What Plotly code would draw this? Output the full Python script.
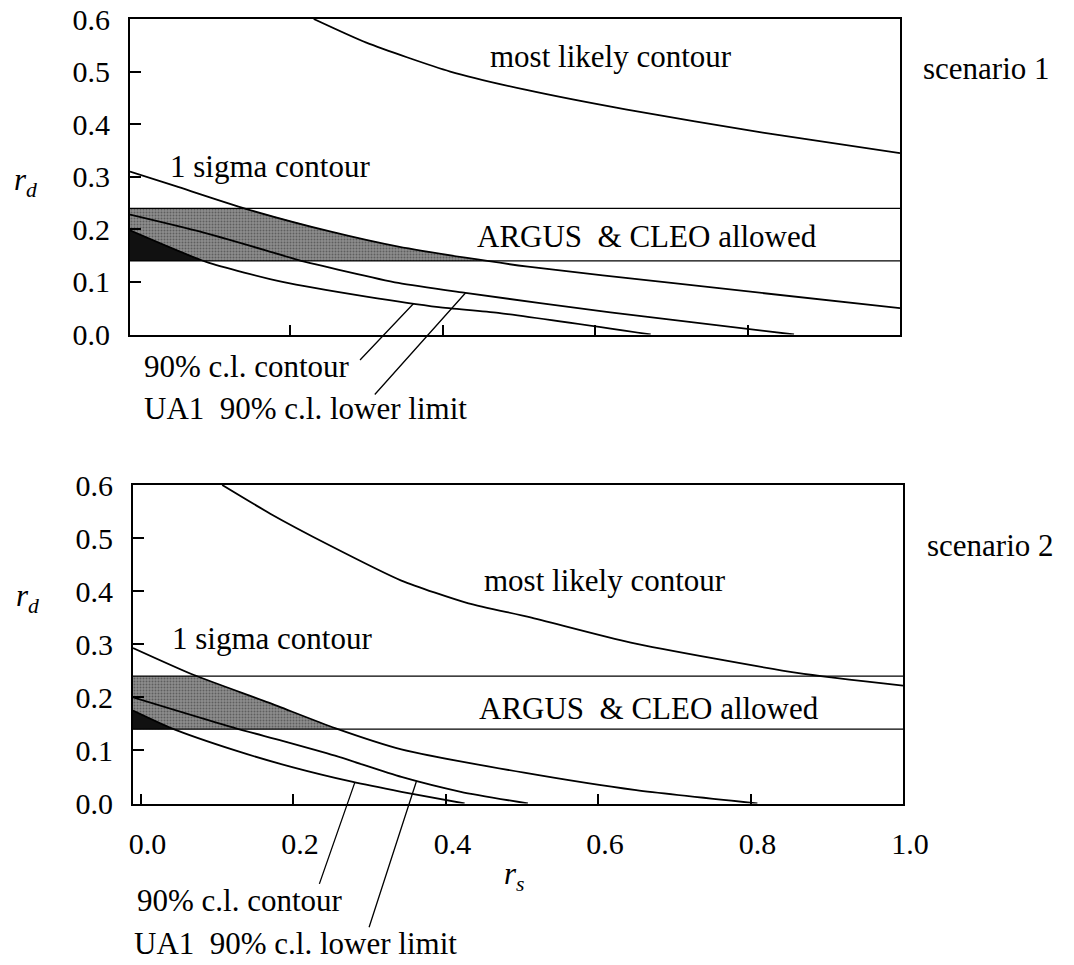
import plotly.graph_objects as go

# ---------------- data ----------------
# scenario 1 (top panel)
ml1_x = [0.231, 0.30, 0.41, 0.51, 0.64, 0.82, 1.0]
ml1_y = [0.60, 0.555, 0.50, 0.465, 0.428, 0.384, 0.345]
sig1_x = [-0.01, 0.05, 0.142, 0.255, 0.342, 0.43, 0.512, 0.70, 1.0]
sig1_y = [0.31, 0.282, 0.239, 0.195, 0.167, 0.146, 0.129, 0.098, 0.05]
ua1_x = [-0.01, 0.081, 0.168, 0.21, 0.342, 0.43, 0.62, 0.861]
ua1_y = [0.228, 0.196, 0.16, 0.142, 0.098, 0.079, 0.042, 0.0]
cl1_x = [-0.01, 0.09, 0.19, 0.30, 0.395, 0.473, 0.673]
cl1_y = [0.198, 0.138, 0.10, 0.072, 0.052, 0.041, 0.0]

# scenario 2 (bottom panel)
ml2_x = [0.107, 0.17, 0.247, 0.342, 0.43, 0.51, 0.643, 0.861, 1.0]
ml2_y = [0.60, 0.546, 0.487, 0.42, 0.377, 0.351, 0.303, 0.246, 0.222]
sig2_x = [-0.01, 0.07, 0.168, 0.255, 0.342, 0.503, 0.65, 0.809]
sig2_y = [0.293, 0.242, 0.19, 0.142, 0.102, 0.058, 0.025, 0.0]
ua2_x = [-0.01, 0.124, 0.186, 0.255, 0.342, 0.42, 0.508]
ua2_y = [0.20, 0.142, 0.118, 0.09, 0.05, 0.022, 0.0]
cl2_x = [-0.01, 0.04, 0.124, 0.20, 0.277, 0.342, 0.425]
cl2_y = [0.175, 0.142, 0.10, 0.068, 0.041, 0.022, 0.0]

# ARGUS & CLEO allowed band
band_lo, band_hi = 0.14, 0.24

x_ticks = [0.0, 0.2, 0.4, 0.6, 0.8, 1.0]
x_tick_text = ["0.0", "0.2", "0.4", "0.6", "0.8", "1.0"]
y_ticks = [0.0, 0.1, 0.2, 0.3, 0.4, 0.5, 0.6]
y_tick_text = ["0.0", "0.1", "0.2", "0.3", "0.4", "0.5", "0.6"]

# ---------------- helpers ----------------
W, H = 1074, 965
FONT = "Liberation Serif, Times New Roman, serif"
FS = 30
FS_LBL = 31


def band_region(xs, ys, lo, hi):
    """Region inside the band [lo, hi] lying below a decreasing curve."""
    px, py = [], []
    for i in range(len(xs)):
        if i > 0:
            x0, y0, x1, y1 = xs[i - 1], ys[i - 1], xs[i], ys[i]
            for level in (hi, lo):
                if (y0 - level) * (y1 - level) < 0:
                    px.append(x0 + (level - y0) * (x1 - x0) / (y1 - y0))
                    py.append(level)
        px.append(xs[i])
        py.append(min(max(ys[i], lo), hi))
    for k in range(len(py)):
        if py[k] <= lo:
            px, py = px[:k + 1], py[:k + 1]
            break
    return px + [px[-1], px[0]], py + [lo, lo]


def yat(xs, ys, x):
    for i in range(1, len(xs)):
        if xs[i - 1] <= x <= xs[i]:
            t = (x - xs[i - 1]) / (xs[i] - xs[i - 1])
            return ys[i - 1] + t * (ys[i] - ys[i - 1])
    return ys[-1]


def P(xp, yp):
    return xp / W, 1 - yp / H


fig = go.Figure()

panels = [
    dict(xa="x", ya="y", ml=(ml1_x, ml1_y), sig=(sig1_x, sig1_y), ua=(ua1_x, ua1_y), cl=(cl1_x, cl1_y)),
    dict(xa="x2", ya="y2", ml=(ml2_x, ml2_y), sig=(sig2_x, sig2_y), ua=(ua2_x, ua2_y), cl=(cl2_x, cl2_y)),
]

for p in panels:
    gx, gy = band_region(p["sig"][0], p["sig"][1], band_lo, band_hi)
    fig.add_trace(go.Scatter(x=gx, y=gy, mode="none", fill="toself", fillcolor="#858585",
                             fillpattern=dict(shape=".", bgcolor="#8e8e8e", fgcolor="#2e2e2e",
                                              size=3, solidity=0.35),
                             xaxis=p["xa"], yaxis=p["ya"], showlegend=False, hoverinfo="skip"))
    bx, by = band_region(p["cl"][0], p["cl"][1], band_lo, band_hi)
    fig.add_trace(go.Scatter(x=bx, y=by, mode="none", fill="toself", fillcolor="#111111",
                             xaxis=p["xa"], yaxis=p["ya"], showlegend=False, hoverinfo="skip"))
    for lvl in (band_lo, band_hi):
        fig.add_trace(go.Scatter(x=[-0.01, 1.0], y=[lvl, lvl], mode="lines",
                                 line=dict(color="black", width=1.3),
                                 xaxis=p["xa"], yaxis=p["ya"], showlegend=False, hoverinfo="skip"))
    for key in ("ml", "sig", "ua", "cl"):
        fig.add_trace(go.Scatter(x=p[key][0], y=p[key][1], mode="lines",
                                 line=dict(color="black", width=1.8, shape="spline", smoothing=0.6),
                                 xaxis=p["xa"], yaxis=p["ya"], showlegend=False, hoverinfo="skip"))

tickfont = dict(family=FONT, size=FS, color="black")
axis_common = dict(showgrid=False, zeroline=False, showline=True, linecolor="black", linewidth=2,
                   mirror=True, ticks="inside", tickcolor="black", tickwidth=1.5,
                   tickfont=tickfont, automargin=False)

fig.update_layout(
    width=W, height=H, margin=dict(l=0, r=0, t=0, b=0),
    font=dict(family=FONT, size=FS, color="black"),
    paper_bgcolor="white", plot_bgcolor="white", showlegend=False,
    xaxis=dict(axis_common, domain=[130 / W, 900 / W], range=[-0.01, 1.0], anchor="y",
               tickvals=[0.2, 0.4, 0.6, 0.8], showticklabels=False, ticklen=10),
    yaxis=dict(axis_common, domain=[1 - 334.5 / H, 1 - 19 / H], range=[0, 0.6], anchor="x",
               tickvals=y_ticks, ticktext=y_tick_text, ticklen=11, ticklabelstandoff=12),
    xaxis2=dict(axis_common, domain=[133 / W, 903 / W], range=[-0.01, 1.0], anchor="y2",
                tickvals=x_ticks, ticktext=x_tick_text, ticklen=10, ticklabelstandoff=12,
                ticklabelshift=7),
    yaxis2=dict(axis_common, domain=[1 - 803.5 / H, 1 - 485 / H], range=[0, 0.6], anchor="x2",
                tickvals=y_ticks, ticktext=y_tick_text, ticklen=11, ticklabelstandoff=12),
)

texts = [
    ("most likely contour", 488, 57),
    ("scenario 1", 921, 69),
    ("1 sigma contour", 168, 166),
    ("ARGUS&nbsp; &amp; CLEO allowed", 475, 237),
    ("90% c.l. contour", 142, 366),
    ("UA1&nbsp; 90% c.l. lower limit", 142, 408),
    ("<i>r<sub>d</sub></i>", 12, 182),
    ("most likely contour", 482, 580),
    ("scenario 2", 925, 545),
    ("1 sigma contour", 170, 638),
    ("ARGUS&nbsp; &amp; CLEO allowed", 477, 708),
    ("90% c.l. contour", 135, 900),
    ("UA1&nbsp; 90% c.l. lower limit", 132, 943),
    ("<i>r<sub>d</sub></i>", 14, 598),
    ("<i>r<sub>s</sub></i>", 502, 876),
]
for t, xp, yp in texts:
    ax_, ay_ = P(xp, yp)
    fig.add_annotation(text=t, x=ax_, y=ay_, xref="paper", yref="paper", xanchor="left",
                       yanchor="middle", showarrow=False,
                       font=dict(family=FONT, size=FS_LBL, color="black"))

# leader lines from the labels to the curves
leaders = [
    ("x", "y", cl1_x, cl1_y, 0.362, -55, 58),
    ("x", "y", ua1_x, ua1_y, 0.43, -92, 103),
    ("x2", "y2", cl2_x, cl2_y, 0.281, -36, 103),
    ("x2", "y2", ua2_x, ua2_y, 0.362, -48, 148),
]
for xr, yr, cx, cy, xh, dx, dy in leaders:
    fig.add_annotation(x=xh, y=yat(cx, cy, xh), xref=xr, yref=yr, text="", showarrow=True,
                       arrowhead=0, arrowwidth=1.3, arrowcolor="black", ax=dx, ay=dy,
                       standoff=0, startstandoff=0)

fig.write_html("out.html")
